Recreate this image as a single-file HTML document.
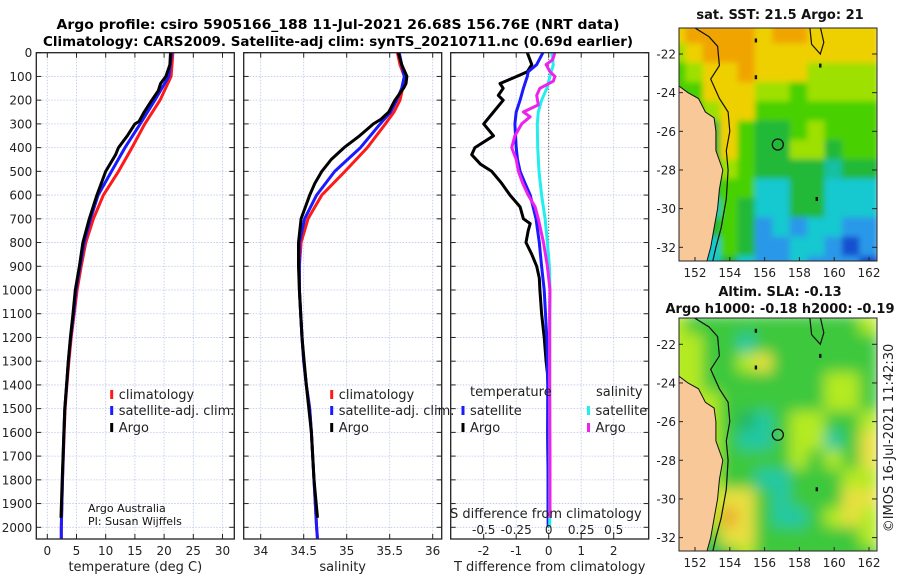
<!DOCTYPE html>
<html><head><meta charset="utf-8">
<style>
html,body{margin:0;padding:0;background:#fff;}
svg{display:block;font-family:"DejaVu Sans","Liberation Sans",sans-serif;}
</style></head>
<body>
<svg id="chart" xmlns="http://www.w3.org/2000/svg" width="900" height="580" viewBox="0 0 900 580">
<defs>
<filter id="blurS" x="-10%" y="-10%" width="120%" height="120%"><feGaussianBlur stdDeviation="3"/></filter>
<filter id="blurL" x="-10%" y="-10%" width="120%" height="120%"><feGaussianBlur stdDeviation="7"/></filter>
<clipPath id="clipM1"><rect x="679" y="28" width="198" height="233"/></clipPath>
<clipPath id="clipM2"><rect x="679" y="318" width="198" height="233"/></clipPath>
<clipPath id="clipP1"><rect x="36.3" y="52.7" width="198" height="486.3"/></clipPath>
<clipPath id="clipP2"><rect x="243.7" y="52.7" width="198" height="486.3"/></clipPath>
<clipPath id="clipP3"><rect x="450.7" y="52.7" width="198" height="486.3"/></clipPath>
</defs>
<text x="338" y="29" text-anchor="middle" font-weight="bold" font-size="13" textLength="563" lengthAdjust="spacingAndGlyphs">Argo profile: csiro 5905166_188 11-Jul-2021 26.68S 156.76E (NRT data)</text>
<text x="338" y="46" text-anchor="middle" font-weight="bold" font-size="13" textLength="590" lengthAdjust="spacingAndGlyphs">Climatology: CARS2009. Satellite-adj clim: synTS_20210711.nc (0.69d earlier)</text>
<g id="g"></g>
</svg>
<script>
// ---- Profile data ----
const depthT = [0,100,200,300,400,500,600,700,800,900,1000,1100,1200,1300,1400,1500,1600,1800,2000,2050];
const tempClim = [21.5,21.2,19.3,16.7,14.5,12.2,9.6,7.9,6.6,5.8,5.1,4.6,4.1,3.7,3.35,3.05,2.9,2.6,2.4,2.4];
const tempSat  = [21.3,20.8,18.4,15.9,13.3,11.0,8.7,7.4,6.3,5.6,4.9,4.5,4.0,3.6,3.3,3.0,2.85,2.6,2.4,2.4];
const depthTA = [0,50,100,130,160,200,250,290,300,350,400,430,500,600,700,800,900,1000,1100,1200,1300,1400,1500,1600,1800,1960];
const tempArgo = [21.1,21.0,20.3,19.4,19.0,17.9,16.6,15.7,15.0,13.7,12.2,11.7,10.0,8.5,7.2,6.1,5.5,4.8,4.4,3.95,3.6,3.3,3.0,2.85,2.55,2.35];
const depthS = [0,50,100,150,200,250,300,400,500,600,700,800,900,1000,1200,1300,1400,1500,1600,1800,2000,2050];
const salClim = [35.59,35.62,35.67,35.65,35.62,35.55,35.45,35.24,34.98,34.71,34.55,34.47,34.45,34.45,34.48,34.50,34.53,34.57,34.59,34.62,34.65,34.66];
const salSat  = [35.61,35.64,35.67,35.64,35.58,35.51,35.39,35.16,34.86,34.65,34.51,34.45,34.45,34.45,34.48,34.50,34.53,34.57,34.59,34.62,34.65,34.66];
const depthSA = [0,50,100,130,150,200,250,280,300,350,400,450,500,550,600,700,800,900,1000,1200,1400,1600,1800,1960];
const salArgo = [35.60,35.64,35.70,35.69,35.66,35.56,35.49,35.40,35.31,35.15,34.97,34.82,34.71,34.63,34.57,34.47,34.44,34.44,34.45,34.48,34.53,34.59,34.62,34.66];
// ---- Difference data ----
const depthDT = [0,50,80,100,130,150,180,200,250,300,350,400,430,470,500,550,600,650,700,720,750,800,850,900,950,1000,1100,1200,1300,1350,1400,1600,1800,1960];
const dTargo = [-0.66,-0.52,-0.66,-0.98,-1.5,-1.4,-1.55,-1.4,-1.7,-2.0,-1.7,-2.27,-2.37,-2.1,-1.75,-1.45,-1.19,-0.88,-0.78,-0.57,-0.63,-0.70,-0.52,-0.37,-0.29,-0.27,-0.22,-0.14,-0.08,-0.04,-0.02,-0.03,-0.02,-0.02];
const depthDTs = [0,50,80,100,150,200,250,300,400,450,500,550,600,700,800,900,1000,1100,1200,1300,1400,1600,1800,2000];
const dTsat = [-0.18,-0.37,-0.63,-0.66,-0.78,-0.88,-1.0,-1.04,-1.0,-0.96,-0.88,-0.73,-0.57,-0.39,-0.29,-0.22,-0.14,-0.10,-0.06,-0.04,-0.03,-0.03,-0.02,-0.02];
const depthDSs = [0,50,100,150,200,250,300,400,500,600,700,800,900,1000,1200,1400,1600,1800,2000];
const dSsat = [0.023,0.035,0.01,-0.015,-0.055,-0.08,-0.088,-0.085,-0.075,-0.055,-0.028,-0.01,0.005,0.01,0.008,0.008,0.008,0.008,0.008];
const depthDSa = [0,30,50,80,100,120,150,180,220,250,270,300,350,400,450,500,550,600,650,700,800,900,1000,1100,1400,1700,1960];
const dSargo = [0.048,0.03,-0.02,0.01,0.048,0.035,-0.068,-0.092,-0.08,-0.195,-0.143,-0.208,-0.26,-0.285,-0.25,-0.233,-0.2,-0.158,-0.105,-0.08,-0.04,-0.01,0.01,0.008,0.008,0.01,0.01];
const depthTicks = [0,100,200,300,400,500,600,700,800,900,1000,1100,1200,1300,1400,1500,1600,1700,1800,1900,2000];
const tTicks = [0,5,10,15,20,25,30];
const sTicks = [34,34.5,35,35.5,36];
const sTickLabels = ["34","34.5","35","35.5","36"];
const dTTicks = [-2,-1,0,1,2];
const dSTicks = [-0.5,-0.25,0,0.25,0.5];
const dSTickLabels = ["-0.5","-0.25","0","0.25","0.5"];
// ---- Map data (1-degree cells, lon 151..162, lat -21..-33) ----
const mapLons = [151,152,153,154,155,156,157,158,159,160,161,162];
const mapLats = [-21,-22,-23,-24,-25,-26,-27,-28,-29,-30,-31,-32,-33];
const sstRows = [
"YOOOOYOOYYYY",
"LYOOOYYYYYYY",
"GLYYOYYYLLLL",
"GGYYYLLGLLLL",
"GGLYYGGGGGGG",
"GGDYGDDGLGGG",
"GGDYGDDLLDGG",
"GGDLGDDDDTDD",
"GGDGGCCDDCCC",
"GGCGDCCDDCCC",
"GGDGDBCBCCBB",
"GGCGDBBCCBNB",
"GCCDCBBCBBBN"];
const slaRows = [
"LGGGGGGGGGGL",
"LLGGTGGGGGGG",
"LLGGLYGGGGGG",
"LLGGGGGGGLLG",
"LLLGGGGGGLLG",
"LLLGDTGLLGGL",
"LLLGTTGLLTGY",
"LLLGGGGLGLGY",
"LLLGGTTGGGLL",
"LLLYYGTGGGYY",
"LLLOYGTTGLYL",
"LLGYYGGGGGGL",
"LGDGLGGGGGGG"];
const sstColors = {O:"#f0a400",Y:"#eed000",L:"#9ee000",G:"#48d000",D:"#22b838",T:"#12c0a0",C:"#14c8d0",B:"#2c98e8",N:"#1450d0"};
const slaColors = {G:"#3cc83c",D:"#22b860",T:"#22c8a4",L:"#b4ea20",Y:"#e8e040",O:"#f0a830"};
const coast = [[151,-23.6],[151.6,-24],[152.2,-24.3],[152.6,-25],[153.1,-25.3],[153.2,-26],[153.2,-27],[153.6,-28],[153.4,-29],[153.3,-30],[153.1,-31],[152.9,-32],[152.6,-33],[151,-33]];
const shelf = [[151.9,-20.6],[152.8,-21.1],[153.3,-21.6],[153.4,-22.6],[152.9,-23.3],[153.4,-24.3],[153.9,-25],[154.0,-26],[153.8,-27],[153.9,-28],[153.8,-29.5],[153.5,-31],[153.2,-32],[153.0,-32.8]];
const reef = [[158.6,-20.6],[158.7,-21.5],[159.2,-22.0],[159.4,-21.4],[159.2,-20.6]];
const mapLonTicks = [152,154,156,158,160,162];
const mapLatTicks = [-22,-24,-26,-28,-30,-32];
const argoLon = 156.76, argoLat = -26.68;

const NS="http://www.w3.org/2000/svg";
const G=document.getElementById('g');
function el(tag, attrs, parent){const e=document.createElementNS(NS,tag);for(const k in attrs)e.setAttribute(k,attrs[k]);(parent||G).appendChild(e);return e;}
function txt(s, attrs, parent){const e=el('text',attrs,parent);e.textContent=s;return e;}

const Y0=52.7, YB=539, KY=0.2373;
const sy = d => Y0 + d*KY;
const sxT = v => 47.3 + v*5.84;
const sxS = v => 260.7 + (v-34)*86;
const sxD = v => 548.7 + v*32.5;
const sxDS = v => 548.7 + v*130;

function pathFrom(xs, ds, fx){return xs.map((v,i)=>(i?'L':'M')+fx(v).toFixed(1)+','+sy(ds[i]).toFixed(1)).join('');}

function panel(name, x0, x1, xTickVals, xTickLabels, fx, xTitle, yLabels){
  const grp=el('g',{});
  
  
  // grid
  depthTicks.forEach(d=>{
    const l=el('line',{x1:x0,x2:x1,y1:sy(d),y2:sy(d),stroke:'#bcc6ec','stroke-width':0.8,'stroke-dasharray':'1.5,1.5'},grp);
    
    
  });
  xTickVals.forEach(v=>{
    const l=el('line',{x1:fx(v),x2:fx(v),y1:Y0,y2:YB,stroke:'#bcc6ec','stroke-width':0.8,'stroke-dasharray':'1.5,1.5'},grp);
    
    
  });
  // ticks
  depthTicks.forEach(d=>{
    el('line',{x1:x0,x2:x0+5,y1:sy(d),y2:sy(d),stroke:'#222','stroke-width':1},grp);
    el('line',{x1:x1-5,x2:x1,y1:sy(d),y2:sy(d),stroke:'#222','stroke-width':1},grp);
    if(yLabels){
      const t=txt(String(d),{x:x0-4,y:sy(d)+4.5,'text-anchor':'end','font-size':12,fill:'#222'},grp);
      
      
    }
  });
  xTickVals.forEach((v,i)=>{
    el('line',{x1:fx(v),x2:fx(v),y1:YB-5,y2:YB,stroke:'#222','stroke-width':1},grp);
    el('line',{x1:fx(v),x2:fx(v),y1:Y0,y2:Y0+5,stroke:'#222','stroke-width':1},grp);
    const t=txt(xTickLabels[i],{x:fx(v),y:555,'text-anchor':'middle','font-size':12,fill:'#222'},grp);
    
    
  });
  const tt=txt(xTitle,{x:(x0+x1)/2,y:571,'text-anchor':'middle','font-size':13,fill:'#222'},grp);
  
  
  return grp;
}
function frame(x0,x1){
  const r=el('rect',{x:x0,y:Y0,width:x1-x0,height:YB-Y0,fill:'none',stroke:'#222','stroke-width':1.3});
  
  
}
function line(ds, vs, fx, color, clip, name){
  const p=el('path',{d:pathFrom(vs,ds,fx),fill:'none',stroke:color,'stroke-width':3,'stroke-linejoin':'round','clip-path':'url(#'+clip+')'});
  
  
}
function legendItem(x,y,color,label,name){
  const m=el('line',{x1:x,x2:x,y1:y-6,y2:y+3,stroke:color,'stroke-width':3});
  
  
  const t=txt(label,{x:x+7,y:y+3,'font-size':13,fill:'#222'});
  
  
}

// Panel 1: temperature
panel('temperature-panel',36.3,234.3,tTicks,tTicks.map(String),sxT,'temperature (deg C)',true);
line(depthT,tempClim,sxT,'#ff1a1a','clipP1','temp-climatology-line');
line(depthT,tempSat,sxT,'#1a1aff','clipP1','temp-satellite-line');
line(depthTA,tempArgo,sxT,'#000','clipP1','temp-argo-line');
frame(36.3,234.3);
legendItem(111.7,396,'#ff1a1a','climatology','legend-climatology');
legendItem(111.7,412,'#1a1aff','satellite-adj. clim.','legend-satellite-adj');
legendItem(111.7,429,'#000','Argo','legend-argo');
let t1=txt('Argo Australia',{x:88,y:512,'font-size':11,fill:'#111'});


let t2=txt('PI: Susan Wijffels',{x:88,y:525,'font-size':11,fill:'#111'});



// Panel 2: salinity
panel('salinity-panel',243.7,441.7,sTicks,sTickLabels,sxS,'salinity',false);
line(depthS,salClim,sxS,'#ff1a1a','clipP2','sal-climatology-line');
line(depthS,salSat,sxS,'#1a1aff','clipP2','sal-satellite-line');
line(depthSA,salArgo,sxS,'#000','clipP2','sal-argo-line');
frame(243.7,441.7);
legendItem(331.7,396,'#ff1a1a','climatology','legend2-climatology');
legendItem(331.7,412,'#1a1aff','satellite-adj. clim.','legend2-satellite-adj');
legendItem(331.7,429,'#000','Argo','legend2-argo');

// Panel 3: differences
panel('difference-panel',450.7,648.7,dTTicks,dTTicks.map(String),sxD,'T difference from climatology',false);
const zl=el('line',{x1:sxD(0),x2:sxD(0),y1:Y0,y2:YB,stroke:'#444','stroke-width':1,'stroke-dasharray':'1,2'});


line(depthDT,dTargo,sxD,'#000','clipP3','dT-argo-line');
line(depthDTs,dTsat,sxD,'#1a1aff','clipP3','dT-satellite-line');
line(depthDSs,dSsat,sxDS,'#22eeee','clipP3','dS-satellite-line');
line(depthDSa,dSargo,sxDS,'#ee22ee','clipP3','dS-argo-line');
frame(450.7,648.7);
let h1=txt('temperature',{x:470,y:396,'font-size':13,fill:'#222'});


let h2=txt('salinity',{x:596,y:396,'font-size':13,fill:'#222'});


legendItem(463,412,'#1a1aff','satellite','legend3-t-satellite');
legendItem(463,429,'#000','Argo','legend3-t-argo');
legendItem(588.5,412,'#22eeee','satellite','legend3-s-satellite');
legendItem(588.5,429,'#ee22ee','Argo','legend3-s-argo');
let st=txt('S difference from climatology',{x:450,y:518,'font-size':13,fill:'#222'});


dSTicks.forEach((v,i)=>{
  const t=txt(dSTickLabels[i],{x:sxDS(v),y:534,'text-anchor':'middle','font-size':12,fill:'#222'});
  
  
});

// Maps
function drawMap(name, yTop, lat22y, rows, colors, blur, clip, titles){
  const mg=el('g',{});
  
  
  const lx = lon => 695 + (lon-152)*17.4;
  const ly = lat => lat22y + (-22-lat)*19.33;
  const cg=el('g',{'clip-path':'url(#'+clip+')'},mg);
  const fg=el('g',{filter:'url(#'+blur+')'},cg);
  mapLats.forEach((lat,r)=>{
    mapLons.forEach((lon,c)=>{
      const rc=el('rect',{x:lx(lon-0.5)-1,y:ly(lat+0.5)-1,width:17.4+2,height:19.33+2,fill:colors[rows[r][c]]},fg);
      
      
    });
  });
  // pad edges
  const land=el('path',{d:coast.map((p,i)=>(i?'L':'M')+lx(p[0]).toFixed(1)+','+ly(p[1]).toFixed(1)).join('')+'L'+lx(150)+','+ly(-34)+'L'+lx(150)+','+ly(-23.6)+'Z',fill:'#f8c898',stroke:'#111','stroke-width':1},cg);
  
  
  const sh=el('path',{d:shelf.map((p,i)=>(i?'L':'M')+lx(p[0]).toFixed(1)+','+ly(p[1]).toFixed(1)).join(''),fill:'none',stroke:'#111','stroke-width':1.2},cg);
  
  
  const rf=el('path',{d:reef.map((p,i)=>(i?'L':'M')+lx(p[0]).toFixed(1)+','+ly(p[1]).toFixed(1)).join(''),fill:'none',stroke:'#111','stroke-width':1.2},cg);
  
  
  [[155.5,-23.2],[159.2,-22.6],[159.0,-29.5],[155.5,-21.3]].forEach(p=>{
    const d=el('rect',{x:lx(p[0])-1.2,y:ly(p[1])-2,width:2.4,height:4,fill:'#111'},cg);
    
    
  });
  const ci=el('circle',{cx:lx(argoLon),cy:ly(argoLat),r:5.5,fill:'none',stroke:'#111','stroke-width':1.3},cg);
  
  
  const fr=el('rect',{x:679,y:yTop,width:198,height:233,fill:'none',stroke:'#222','stroke-width':1},mg);
  
  
  mapLatTicks.forEach(lat=>{
    el('line',{x1:872,x2:877,y1:ly(lat),y2:ly(lat),stroke:'#222'},mg);
    el('line',{x1:679,x2:683,y1:ly(lat),y2:ly(lat),stroke:'#222'},mg);
    const t=txt(String(lat),{x:676,y:ly(lat)+4.5,'text-anchor':'end','font-size':12,fill:'#222'},mg);
    
    
  });
  mapLonTicks.forEach(lon=>{
    el('line',{x1:lx(lon),x2:lx(lon),y1:yTop+233-4,y2:yTop+233,stroke:'#222'},mg);
    const t=txt(String(lon),{x:lx(lon),y:yTop+233+16,'text-anchor':'middle','font-size':12,fill:'#222'},mg);
    
    
  });
  titles.forEach(tt=>{
    const t=txt(tt[0],{x:780,y:tt[1],'text-anchor':'middle','font-weight':'bold','font-size':13,fill:'#111'},mg);
    
    
  });
}
drawMap('sst-map',28,54,sstRows,sstColors,'blurS','clipM1',[['sat. SST: 21.5 Argo: 21',19]]);
drawMap('sla-map',318,344.3,slaRows,slaColors,'blurL','clipM2',[['Altim. SLA: -0.13',296],['Argo h1000: -0.18 h2000: -0.19',313]]);
const cp=txt('\u00A9IMOS 16-Jul-2021 11:42:30',{x:0,y:0,'text-anchor':'middle','font-size':13,fill:'#222',transform:'translate(893,438) rotate(-90)'});


</script>
</body></html>
